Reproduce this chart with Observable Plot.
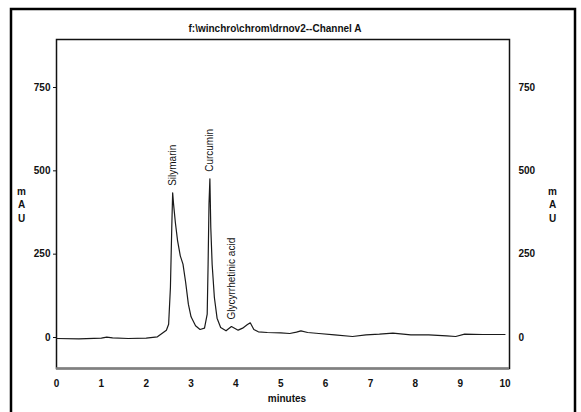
<!DOCTYPE html>
<html>
<head>
<meta charset="utf-8">
<script src="https://cdn.jsdelivr.net/npm/d3@7"></script>
<script src="https://cdn.jsdelivr.net/npm/@observablehq/plot@0.6"></script>
<style>
  html, body { margin: 0; padding: 0; background: #fff; }
  #chart { width: 581px; height: 412px; overflow: hidden; }
</style>
</head>
<body>
<div id="chart"></div>
<script>
const title = "f:\\winchro\\chrom\\drnov2--Channel A";
const xLabel = "minutes";
const yLabel = "m\nA\nU";
const xTicks = [0, 1, 2, 3, 4, 5, 6, 7, 8, 9, 10];
const yTicks = [0, 250, 500, 750];
const xDomain = [0, 10.1];
const yDomain = [-93, 894];

// retention time (minutes) and absorbance (mAU)
const times = [0, 0.5, 1.0, 1.12, 1.25, 1.6, 2.0, 2.25, 2.35, 2.45, 2.5, 2.54, 2.57, 2.59, 2.61, 2.65, 2.7, 2.76, 2.82, 2.88, 2.94, 3.0, 3.1, 3.2, 3.3, 3.36, 3.38, 3.40, 3.42, 3.44, 3.47, 3.52, 3.58, 3.66, 3.78, 3.9, 4.05, 4.15, 4.25, 4.32, 4.4, 4.5, 4.7, 5.0, 5.2, 5.35, 5.45, 5.6, 5.85, 6.2, 6.6, 6.9, 7.2, 7.5, 7.9, 8.3, 8.7, 8.9, 9.1, 9.5, 10.0];
const mAU   = [-3, -4, -2, 1, -1, -3, -2, 2, 12, 22, 40, 150, 330, 434, 400, 345, 290, 245, 220, 165, 100, 62, 35, 24, 28, 70, 220, 400, 476, 330, 220, 120, 58, 30, 20, 33, 22, 28, 38, 44, 24, 17, 15, 14, 12, 16, 20, 15, 12, 8, 3, 8, 10, 13, 8, 8, 5, 3, 10, 9, 9];

const peakNames  = ["Silymarin", "Curcumin", "Glycyrrhetinic acid"];
const peakTimes  = [2.59, 3.42, 3.9];
const peakValues = [434, 476, 33];

const series = times.map((t, i) => ({t, v: mAU[i]}));
const peaks = peakNames.map((name, i) => ({name, t: peakTimes[i], v: peakValues[i]}));

const font = "'Liberation Sans', Arial, sans-serif";

const chart = Plot.plot({
  width: 581,
  height: 412,
  marginTop: 39,
  marginBottom: 44,
  marginLeft: 56,
  marginRight: 72,
  style: {fontFamily: font, background: "#fff", color: "#111"},
  x: {domain: xDomain},
  y: {domain: yDomain},
  marks: [
    Plot.frame({stroke: "#111", strokeWidth: 1.5}),
    Plot.ruleY([yDomain[0]], {stroke: "#808080", strokeWidth: 2.5}),
    Plot.axisX(xTicks, {tickSize: 0, tickPadding: 11, fontSize: 10, fontWeight: "bold", label: null, fill: "#111"}),
    Plot.axisY(yTicks, {anchor: "left", tickSize: 3, tickPadding: 3, fontSize: 10, fontWeight: "bold", label: null, fill: "#111"}),
    Plot.axisY(yTicks, {anchor: "right", tickSize: 0, tickPadding: 9, fontSize: 10, fontWeight: "bold", label: null, fill: "#111"}),
    Plot.line(series, {x: "t", y: "v", stroke: "#1a1a1a", strokeWidth: 1.2}),
    Plot.text(peaks, {x: "t", y: "v", text: "name", rotate: -90, textAnchor: "start", lineAnchor: "middle", dy: -7, fontSize: 10, fill: "#111"}),
    Plot.text([title], {frameAnchor: "top", textAnchor: "middle", lineAnchor: "middle", dx: -8, dy: -11, fontSize: 10, fontWeight: "bold", fill: "#111"}),
    Plot.text([yLabel], {frameAnchor: "left", textAnchor: "middle", lineAnchor: "middle", dx: -35, lineHeight: 1.35, fontSize: 10, fontWeight: "bold", fill: "#111"}),
    Plot.text([yLabel], {frameAnchor: "right", textAnchor: "middle", lineAnchor: "middle", dx: 43, lineHeight: 1.35, fontSize: 10, fontWeight: "bold", fill: "#111"}),
    Plot.text([xLabel], {frameAnchor: "bottom", textAnchor: "middle", lineAnchor: "middle", dx: 4, dy: 30, fontSize: 10, fontWeight: "bold", fill: "#111"})
  ]
});

// outer page border of the scanned chromatogram
d3.select(chart).insert("rect", ":first-child")
  .attr("x", 11).attr("y", 9).attr("width", 564).attr("height", 420)
  .attr("fill", "none").attr("stroke", "#000").attr("stroke-width", 2.5);

document.getElementById("chart").appendChild(chart);
</script>
</body>
</html>
